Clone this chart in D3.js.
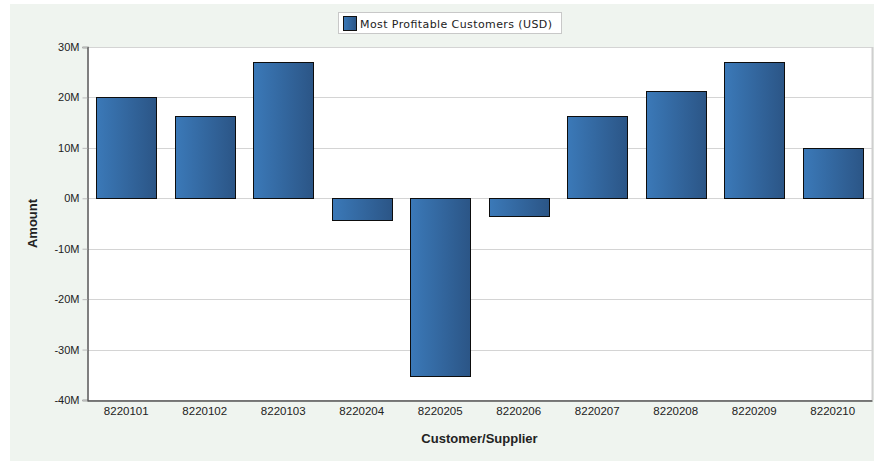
<!DOCTYPE html>
<html>
<head>
<meta charset="utf-8">
<script src="https://cdn.jsdelivr.net/npm/d3@7"></script>
<style>
  html, body { margin: 0; padding: 0; background: #ffffff; }
  svg { display: block; }
</style>
</head>
<body>
<svg id="chart" width="874" height="461"></svg>
<script>
// Customer/supplier codes along the x axis
const customers = ["8220101", "8220102", "8220103", "8220204", "8220205",
                   "8220206", "8220207", "8220208", "8220209", "8220210"];
// Profit per customer, in millions of USD
const profitM = [20, 16.3, 27, -4.4, -35.3, -3.6, 16.3, 21.2, 27, 10];
// Y axis ticks, in millions
const yTicks = [30, 20, 10, 0, -10, -20, -30, -40];
const seriesName = "Most Profitable Customers (USD)";

const svg = d3.select("#chart");
const W = 874, H = 461;
const plot = { left: 87, right: 872, top: 47, bottom: 400 };
const font = "Liberation Sans, Arial, sans-serif";

// panel background
svg.append("rect")
  .attr("x", 10).attr("y", 4)
  .attr("width", W - 10).attr("height", H - 4)
  .attr("fill", "#eff4ef");

// gradient for bars: lighter on the left, darker on the right
const defs = svg.append("defs");
const grad = defs.append("linearGradient").attr("id", "barGrad")
  .attr("x1", "0%").attr("x2", "100%").attr("y1", "0%").attr("y2", "0%");
grad.append("stop").attr("offset", "0%").attr("stop-color", "#3b79b8");
grad.append("stop").attr("offset", "100%").attr("stop-color", "#2b5586");

const x = d3.scaleBand()
  .domain(customers)
  .range([plot.left, plot.right])
  .paddingInner(0.24)
  .paddingOuter(0.12);

const y = d3.scaleLinear()
  .domain([-40, 30])
  .range([plot.bottom, plot.top]);

// plot area
svg.append("rect")
  .attr("x", plot.left).attr("y", plot.top)
  .attr("width", plot.right - plot.left).attr("height", plot.bottom - plot.top)
  .attr("fill", "#ffffff");

// horizontal gridlines
svg.append("g")
  .selectAll("line")
  .data(yTicks)
  .join("line")
  .attr("x1", plot.left).attr("x2", plot.right)
  .attr("y1", d => Math.round(y(d)) + 0.5)
  .attr("y2", d => Math.round(y(d)) + 0.5)
  .attr("stroke", "#d4d4d4")
  .attr("stroke-width", 1);

// right border
svg.append("line")
  .attr("x1", plot.right + 0.5).attr("x2", plot.right + 0.5)
  .attr("y1", plot.top).attr("y2", plot.bottom)
  .attr("stroke", "#cfcfcf").attr("stroke-width", 2);

// bars
svg.append("g")
  .selectAll("rect")
  .data(customers.map((c, i) => ({ c, v: profitM[i] })))
  .join("rect")
  .attr("x", d => Math.round(x(d.c)) + 0.5)
  .attr("width", Math.round(x.bandwidth()))
  .attr("y", d => Math.round(y(Math.max(0, d.v))) + 0.5)
  .attr("height", d => Math.round(Math.abs(y(d.v) - y(0))))
  .attr("fill", "url(#barGrad)")
  .attr("stroke", "#0d0d0d")
  .attr("stroke-width", 1);

// y axis
const yAxis = d3.axisLeft(y)
  .tickValues(yTicks)
  .tickSize(5)
  .tickPadding(3)
  .tickFormat(d => d + "M");
const gy = svg.append("g")
  .attr("transform", `translate(${plot.left + 0.5},0)`)
  .call(yAxis);
gy.select(".domain").attr("stroke", "#555555").attr("stroke-width", 1.5);
gy.selectAll(".tick line").attr("stroke", "#bbbbbb");
gy.selectAll(".tick text")
  .attr("font-family", font)
  .attr("font-size", 11)
  .attr("fill", "#222222");

// x axis
const xAxis = d3.axisBottom(x).tickSize(0).tickPadding(6);
const gx = svg.append("g")
  .attr("transform", `translate(0,${plot.bottom + 0.5})`)
  .call(xAxis);
gx.select(".domain").attr("stroke", "#555555").attr("stroke-width", 1.5);
gx.selectAll(".tick text")
  .attr("font-family", font)
  .attr("font-size", 11.5)
  .attr("fill", "#222222");

// axis titles
svg.append("text")
  .attr("transform", `translate(37,${(plot.top + plot.bottom) / 2}) rotate(-90)`)
  .attr("text-anchor", "middle")
  .attr("font-family", font)
  .attr("font-weight", "bold")
  .attr("font-size", 13)
  .attr("fill", "#222222")
  .text("Amount");

svg.append("text")
  .attr("x", (plot.left + plot.right) / 2)
  .attr("y", 443)
  .attr("text-anchor", "middle")
  .attr("font-family", font)
  .attr("font-weight", "bold")
  .attr("font-size", 13)
  .attr("fill", "#222222")
  .text("Customer/Supplier");

// legend
const lg = svg.append("g");
lg.append("rect")
  .attr("x", 338.5).attr("y", 12.5)
  .attr("width", 223).attr("height", 21)
  .attr("fill", "#ffffff")
  .attr("stroke", "#c8c8c8");
lg.append("rect")
  .attr("x", 343.5).attr("y", 16.5)
  .attr("width", 13).attr("height", 14)
  .attr("fill", "url(#barGrad)")
  .attr("stroke", "#111111");
lg.append("text")
  .attr("x", 360).attr("y", 27.5)
  .attr("font-family", "DejaVu Sans, sans-serif")
  .attr("font-size", 11)
  .attr("textLength", 192)
  .attr("lengthAdjust", "spacing")
  .attr("fill", "#222222")
  .text(seriesName);
</script>
</body>
</html>
